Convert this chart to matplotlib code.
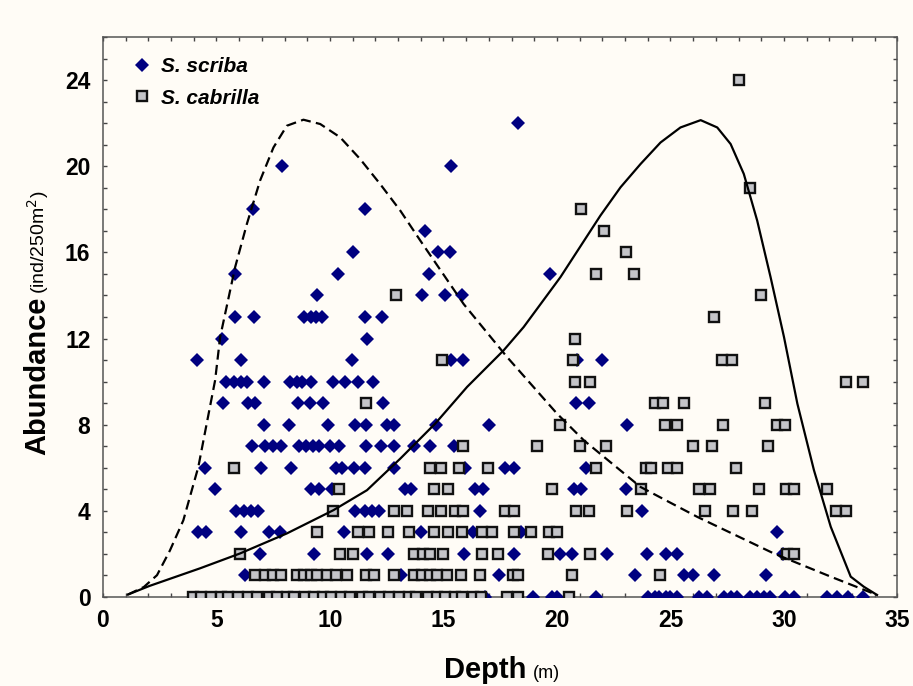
import matplotlib
matplotlib.use("Agg")
import matplotlib.pyplot as plt
from matplotlib.lines import Line2D
from matplotlib.ticker import MultipleLocator

plt.rcParams['font.family'] = ['Liberation Sans', 'DejaVu Sans']

# S. scriba (diamonds): depth (m) and abundance, read row by row
scriba_depth = [
    18.3,
    7.9, 15.35,
    6.6, 11.55,
    14.2,
    11.0, 14.75, 15.3,
    5.8, 10.35, 14.35, 19.7,
    9.45, 14.05, 15.05, 15.8,
    5.8, 6.65, 8.85, 9.15, 9.4, 9.65, 11.55, 12.3,
    5.25, 11.65,
    4.15, 6.1, 10.95, 15.35, 15.85, 20.9, 22.0,
    5.4, 5.75, 6.1, 6.35, 7.1, 8.25, 8.55, 8.75, 9.15, 10.15, 10.65, 11.25, 11.9,
    5.3, 6.4, 6.7, 8.6, 9.1, 9.7, 12.35, 20.85, 21.4,
    7.1, 8.2, 9.9, 11.1, 11.6, 12.5, 12.8, 14.65, 17.0, 23.1,
    6.55, 7.15, 7.5, 7.85, 8.65, 8.95, 9.25, 9.5, 10.0, 10.4, 11.6, 12.25, 12.8,
    13.7, 14.4, 15.45,
    4.5, 6.95, 8.3, 10.25, 10.55, 11.05, 11.55, 12.8, 15.95, 17.7, 18.1, 21.3,
    4.95, 9.15, 9.5, 10.1, 13.3, 13.55, 16.4, 16.75, 20.75, 21.05, 23.05,
    5.85, 6.2, 6.5, 6.85, 11.1, 11.55, 11.85, 12.15, 16.6, 23.75,
    4.2, 4.55, 6.1, 7.3, 7.8, 10.6, 14.0, 16.3, 18.4, 29.7,
    6.9, 9.3, 11.65, 12.55, 15.9, 18.1, 20.15, 20.65, 22.2, 23.95, 24.8, 25.3, 29.95,
    6.25, 13.15, 17.45, 23.45, 25.6, 26.0, 26.9, 29.2,
    16.85, 18.95, 19.8, 20.0, 21.7, 24.0, 24.3, 24.5, 24.8, 25.0, 25.3, 26.25,
    26.6, 27.35, 27.65, 27.95, 28.5, 28.8, 29.1, 29.4, 30.05, 30.45, 31.9, 32.35,
    32.8, 33.5,
]
scriba_abund = (
    [22] + [20] * 2 + [18] * 2 + [17] + [16] * 3 + [15] * 4 + [14] * 4
    + [13] * 8 + [12] * 2 + [11] * 7 + [10] * 13 + [9] * 9 + [8] * 10
    + [7] * 16 + [6] * 12 + [5] * 11 + [4] * 10 + [3] * 10 + [2] * 13
    + [1] * 8 + [0] * 26
)

# S. cabrilla (squares)
cabrilla_depth = [
    28.0,
    28.5,
    21.05,
    22.05,
    23.05,
    21.7, 23.4,
    12.9, 29.0,
    26.9,
    20.8,
    14.95, 20.7, 27.25, 27.7,
    20.8, 21.45, 32.75, 33.5,
    11.6, 24.3, 24.65, 25.6, 29.15,
    20.15, 24.75, 25.3, 27.3, 29.7, 30.05,
    15.85, 19.1, 21.0, 22.15, 26.0, 26.85, 29.3,
    5.75, 14.4, 14.9, 15.7, 16.95, 21.7, 23.9, 24.15, 24.9, 25.3, 27.9,
    10.4, 14.6, 15.2, 19.8, 23.7, 26.25, 26.75, 28.9, 30.1, 30.45, 31.9,
    10.15, 12.8, 13.4, 14.3, 14.9, 15.5, 15.85, 17.7, 18.1, 20.85, 21.4, 23.1,
    26.5, 27.75, 28.6, 32.3, 32.75,
    9.45, 11.25, 11.7, 12.55, 13.5, 14.6, 15.2, 15.8, 16.7, 17.15, 18.1, 18.85,
    19.65, 20.0,
    6.05, 10.45, 11.0, 13.7, 14.1, 14.4, 15.0, 16.7, 17.4, 19.6, 21.45, 30.15, 30.45,
    6.7, 7.15, 7.5, 7.85, 8.55, 8.85, 9.15, 9.45, 9.85, 10.25, 10.75, 11.6, 11.95,
    12.8, 13.7, 14.05, 14.4, 14.7, 15.15, 15.75, 16.6, 18.05, 18.3, 20.65, 24.55,
    3.95, 4.3, 4.75, 5.2, 5.5, 5.95, 6.4, 6.8, 7.3, 7.65, 8.1, 8.4, 8.9, 9.3, 9.7,
    10.05, 10.5, 10.9, 11.4, 11.7, 12.2, 12.6, 13.05, 13.5, 13.8, 14.3, 14.7, 15.05,
    15.5, 15.8, 16.3, 16.65, 17.8, 18.3, 20.55,
]
cabrilla_abund = (
    [24] + [19] + [18] + [17] + [16] + [15] * 2 + [14] * 2 + [13] + [12]
    + [11] * 4 + [10] * 4 + [9] * 5 + [8] * 6 + [7] * 7 + [6] * 11 + [5] * 11
    + [4] * 17 + [3] * 14 + [2] * 13 + [1] * 25 + [0] * 35
)

# fitted curves
scriba_fit_x = [1.1, 1.8, 2.38, 2.95, 3.54, 4.2, 4.57, 4.94, 5.16, 5.82, 6.34,
                6.92, 7.51, 8.1, 8.83, 9.57, 10.45, 11.33, 12.21, 13.1, 13.98,
                15.89, 17.8, 20.0, 21.18, 23.68, 26.18, 29.55, 32.06, 34.1]
scriba_fit_y = [0.1, 0.45, 1.0, 2.15, 3.55, 6.03, 8.05, 10.06, 12.06, 15.31, 17.33,
                19.34, 20.88, 21.89, 22.17, 21.97, 21.35, 20.34, 19.18, 17.94, 16.55,
                13.6, 11.14, 8.51, 7.27, 5.1, 3.71, 2.01, 0.93, 0.08]
cabrilla_fit_x = [1.1, 2.05, 4.28, 6.04, 8.1, 10.15, 11.63, 13.1, 14.64, 16.04,
                  17.65, 18.53, 20.15, 21.91, 22.8, 23.68, 24.56, 25.44, 26.33,
                  27.06, 27.65, 28.23, 28.82, 29.41, 30.0, 30.59, 31.32, 32.06,
                  32.94, 33.52, 34.1]
cabrilla_fit_y = [0.1, 0.5, 1.32, 2.01, 2.94, 4.02, 4.95, 6.42, 8.05, 9.75,
                  11.45, 12.53, 14.85, 17.71, 19.03, 20.11, 21.11, 21.81, 22.15,
                  21.81, 21.04, 19.65, 17.48, 14.85, 12.07, 8.97, 5.88, 3.25,
                  0.93, 0.46, 0.08]

bg = '#fffcf6'
navy = '#000080'
fig = plt.figure(figsize=(9.13, 6.86), dpi=100, facecolor=bg)
ax = fig.add_axes([0.1128, 0.1302, 0.8702, 0.8154], facecolor=bg)

ax.plot(scriba_depth, scriba_abund, linestyle='none', marker='D', markersize=7.1,
        color=navy, markeredgewidth=0, zorder=3)
ax.plot(cabrilla_depth, cabrilla_abund, linestyle='none', marker='s', markersize=7.9,
        markerfacecolor='#c4c4c8', markeredgecolor='#111111', markeredgewidth=1.7,
        zorder=4)
ax.plot(scriba_fit_x, scriba_fit_y, color='black', lw=1.6, ls=(0, (4.5, 2.4)),
        zorder=5)
ax.plot(cabrilla_fit_x, cabrilla_fit_y, color='black', lw=1.6, zorder=5)

ax.set_xlim(0, 35)
ax.set_ylim(0, 26)
ax.xaxis.set_major_locator(MultipleLocator(5))
ax.xaxis.set_minor_locator(MultipleLocator(1))
ax.yaxis.set_major_locator(MultipleLocator(4))
ax.yaxis.set_minor_locator(MultipleLocator(1))
ax.tick_params(which='both', direction='in', top=True, right=True,
               length=3, width=1, color='#444444')
ax.tick_params(which='major', labelsize=16.5, pad=9)
for lbl in ax.get_xticklabels() + ax.get_yticklabels():
    lbl.set_fontweight('bold')
for s in ax.spines.values():
    s.set_color('#555555')
    s.set_linewidth(1.1)

# axis titles with smaller unit text
fig.text(526 / 913, 8 / 686, 'Depth', fontsize=21, fontweight='bold',
         ha='right', va='baseline')
fig.text(533 / 913, 8 / 686, '(m)', fontsize=13, ha='left', va='baseline')
fig.text(45 / 913, (686 - 455) / 686, 'Abundance', fontsize=21, fontweight='bold',
         rotation=90, rotation_mode='anchor', ha='left', va='baseline')
fig.text(45 / 913, (686 - 294) / 686, '(ind/250m$^2$)', fontsize=14,
         rotation=90, rotation_mode='anchor', ha='left', va='baseline')

handles = [
    Line2D([], [], linestyle='none', marker='D', markersize=7.1, color=navy,
           markeredgewidth=0, label='S. scriba'),
    Line2D([], [], linestyle='none', marker='s', markersize=7.9,
           markerfacecolor='#c4c4c8', markeredgecolor='#111111',
           markeredgewidth=1.7, label='S. cabrilla'),
]
ax.legend(handles=handles, loc='upper left', bbox_to_anchor=(0.012, 0.998),
          frameon=False, handlelength=1.0, handletextpad=0.45, labelspacing=0.6,
          prop={'size': 15, 'weight': 'bold', 'style': 'italic'})

fig.savefig('out.png', dpi=100, facecolor=bg)
